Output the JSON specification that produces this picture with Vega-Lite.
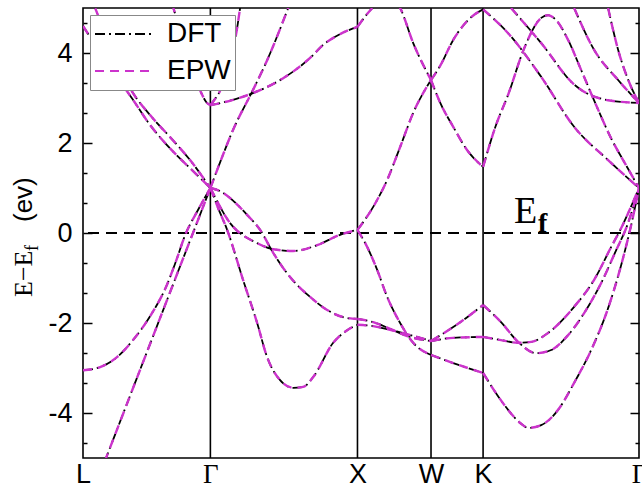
{
 "$schema": "https://vega.github.io/schema/vega-lite/v6.json",
 "width": 556, "height": 450,
 "autosize": {"type": "none"},
 "padding": {"left": 83, "top": 8, "right": 3, "bottom": 32},
 "background": "white",
 "config": {
   "view": {"stroke": "black", "strokeWidth": 1.6},
   "axis": {"grid": false, "domain": false},
   "legend": {"orient": "top-left", "offset": 7, "padding": 4, "fillColor": "white", "strokeColor": "#888888", "strokeWidth": 1, "labelFont": "Liberation Sans", "labelFontSize": 28, "labelColor": "black", "symbolType": "stroke", "symbolSize": 3600, "symbolStrokeWidth": 2, "clipHeight": 30, "rowPadding": 7, "labelOffset": 11}
 },
 "datasets": {
  "vlines": [{"k": 0.866}, {"k": 1.866}, {"k": 2.366}, {"k": 2.72}],
  "zero": [{"e": 0}],
  "bands": [
   {"b":"b1","k":0,"dft":-3.05,"epw":-3.05},{"b":"b1","k":0.116,"dft":-2.98,"epw":-2.98},{"b":"b1","k":0.231,"dft":-2.76,"epw":-2.76},{"b":"b1","k":0.34,"dft":-2.38,"epw":-2.38},{"b":"b1","k":0.456,"dft":-1.85,"epw":-1.85},{"b":"b1","k":0.571,"dft":-1.15,"epw":-1.15},{"b":"b1","k":0.633,"dft":-0.62,"epw":-0.62},{"b":"b1","k":0.694,"dft":-0.05,"epw":-0.05},{"b":"b1","k":0.78,"dft":0.5,"epw":0.5},{"b":"b1","k":0.866,"dft":1.0,"epw":1.0},
   {"b":"b2","k":0,"dft":-6.33,"epw":-6.33},{"b":"b2","k":0.433,"dft":-2.66,"epw":-2.66},{"b":"b2","k":0.866,"dft":1.0,"epw":1.0},
   {"b":"b3","k":0,"dft":5.6,"epw":5.6},{"b":"b3","k":0.082,"dft":5.0,"epw":5.0},{"b":"b3","k":0.2,"dft":4.0,"epw":4.0},{"b":"b3","k":0.34,"dft":3.11,"epw":3.11},{"b":"b3","k":0.456,"dft":2.62,"epw":2.62},{"b":"b3","k":0.592,"dft":2.13,"epw":2.13},{"b":"b3","k":0.728,"dft":1.62,"epw":1.62},{"b":"b3","k":0.866,"dft":1.0,"epw":1.0},
   {"b":"b4","k":0,"dft":4.6,"epw":4.6},{"b":"b4","k":0.17,"dft":3.75,"epw":3.75},{"b":"b4","k":0.34,"dft":2.96,"epw":2.96},{"b":"b4","k":0.456,"dft":2.4,"epw":2.4},{"b":"b4","k":0.592,"dft":1.88,"epw":1.88},{"b":"b4","k":0.728,"dft":1.44,"epw":1.44},{"b":"b4","k":0.866,"dft":1.0,"epw":1.0},
   {"b":"b5","k":0.605,"dft":5.1,"epw":5.1},{"b":"b5","k":0.7,"dft":4.1,"epw":4.1},{"b":"b5","k":0.77,"dft":3.4,"epw":3.4},{"b":"b5","k":0.81,"dft":3.07,"epw":3.07},{"b":"b5","k":0.84,"dft":2.9,"epw":2.9},{"b":"b5","k":0.866,"dft":2.84,"epw":2.84},
   {"b":"b6","k":0.866,"dft":2.84,"epw":2.84},{"b":"b6","k":0.891,"dft":2.95,"epw":2.95},{"b":"b6","k":0.932,"dft":3.16,"epw":3.16},{"b":"b6","k":0.99,"dft":3.7,"epw":3.7},{"b":"b6","k":1.048,"dft":4.56,"epw":4.56},{"b":"b6","k":1.068,"dft":5.0,"epw":5.0},{"b":"b6","k":1.09,"dft":5.5,"epw":5.5},
   {"b":"b7","k":0.866,"dft":2.84,"epw":2.84},{"b":"b7","k":0.912,"dft":2.87,"epw":2.87},{"b":"b7","k":1.02,"dft":2.96,"epw":2.96},{"b":"b7","k":1.156,"dft":3.11,"epw":3.11},{"b":"b7","k":1.361,"dft":3.44,"epw":3.44},{"b":"b7","k":1.544,"dft":3.89,"epw":3.89},{"b":"b7","k":1.633,"dft":4.18,"epw":4.18},{"b":"b7","k":1.748,"dft":4.42,"epw":4.42},{"b":"b7","k":1.866,"dft":4.58,"epw":4.58},
   {"b":"b8","k":0.866,"dft":1.0,"epw":1.0},{"b":"b8","k":0.932,"dft":1.57,"epw":1.57},{"b":"b8","k":1.02,"dft":2.29,"epw":2.29},{"b":"b8","k":1.156,"dft":3.18,"epw":3.18},{"b":"b8","k":1.252,"dft":3.84,"epw":3.84},{"b":"b8","k":1.395,"dft":5.0,"epw":5.0},{"b":"b8","k":1.43,"dft":5.3,"epw":5.3},
   {"b":"b9","k":0.866,"dft":1.0,"epw":1.0},{"b":"b9","k":0.918,"dft":0.56,"epw":0.56},{"b":"b9","k":0.98,"dft":0.07,"epw":0.07},{"b":"b9","k":1.088,"dft":-1.04,"epw":-1.04},{"b":"b9","k":1.184,"dft":-2.0,"epw":-2.0},{"b":"b9","k":1.252,"dft":-2.76,"epw":-2.76},{"b":"b9","k":1.34,"dft":-3.27,"epw":-3.27},{"b":"b9","k":1.429,"dft":-3.44,"epw":-3.44},{"b":"b9","k":1.497,"dft":-3.42,"epw":-3.42},{"b":"b9","k":1.565,"dft":-3.2,"epw":-3.2},{"b":"b9","k":1.701,"dft":-2.44,"epw":-2.44},{"b":"b9","k":1.796,"dft":-2.16,"epw":-2.16},{"b":"b9","k":1.866,"dft":-2.04,"epw":-2.04},
   {"b":"b10","k":0.866,"dft":1.0,"epw":1.0},{"b":"b10","k":0.91,"dft":0.72,"epw":0.72},{"b":"b10","k":0.96,"dft":0.42,"epw":0.42},{"b":"b10","k":1.0,"dft":0.22,"epw":0.22},{"b":"b10","k":1.048,"dft":0.05,"epw":0.05},{"b":"b10","k":1.1,"dft":-0.08,"epw":-0.08},{"b":"b10","k":1.156,"dft":-0.18,"epw":-0.18},{"b":"b10","k":1.293,"dft":-0.36,"epw":-0.36},{"b":"b10","k":1.429,"dft":-0.4,"epw":-0.4},{"b":"b10","k":1.592,"dft":-0.27,"epw":-0.27},{"b":"b10","k":1.748,"dft":-0.04,"epw":-0.04},{"b":"b10","k":1.866,"dft":0.07,"epw":0.07},
   {"b":"b11","k":0.866,"dft":1.0,"epw":1.0},{"b":"b11","k":0.932,"dft":0.93,"epw":0.93},{"b":"b11","k":1.02,"dft":0.72,"epw":0.72},{"b":"b11","k":1.122,"dft":0.38,"epw":0.38},{"b":"b11","k":1.204,"dft":0.07,"epw":0.07},{"b":"b11","k":1.293,"dft":-0.44,"epw":-0.44},{"b":"b11","k":1.408,"dft":-0.98,"epw":-0.98},{"b":"b11","k":1.544,"dft":-1.42,"epw":-1.42},{"b":"b11","k":1.66,"dft":-1.71,"epw":-1.71},{"b":"b11","k":1.769,"dft":-1.87,"epw":-1.87},{"b":"b11","k":1.866,"dft":-1.91,"epw":-1.91},
   {"b":"b12","k":1.866,"dft":4.58,"epw":4.58},{"b":"b12","k":1.92,"dft":4.82,"epw":4.82},{"b":"b12","k":1.973,"dft":5.02,"epw":5.02},{"b":"b12","k":2.061,"dft":5.3,"epw":5.3},{"b":"b12","k":2.156,"dft":5.0,"epw":5.0},{"b":"b12","k":2.245,"dft":4.22,"epw":4.22},{"b":"b12","k":2.366,"dft":3.4,"epw":3.4},
   {"b":"b13","k":1.866,"dft":0.07,"epw":0.07},{"b":"b13","k":1.973,"dft":0.58,"epw":0.58},{"b":"b13","k":2.068,"dft":1.18,"epw":1.18},{"b":"b13","k":2.156,"dft":1.91,"epw":1.91},{"b":"b13","k":2.245,"dft":2.67,"epw":2.67},{"b":"b13","k":2.366,"dft":3.4,"epw":3.4},
   {"b":"b14","k":1.866,"dft":0.07,"epw":0.07},{"b":"b14","k":1.932,"dft":-0.31,"epw":-0.31},{"b":"b14","k":2.0,"dft":-0.82,"epw":-0.82},{"b":"b14","k":2.068,"dft":-1.42,"epw":-1.42},{"b":"b14","k":2.156,"dft":-2.0,"epw":-2.0},{"b":"b14","k":2.245,"dft":-2.44,"epw":-2.44},{"b":"b14","k":2.366,"dft":-2.71,"epw":-2.71},
   {"b":"b15","k":1.866,"dft":-1.91,"epw":-1.91},{"b":"b15","k":1.973,"dft":-1.98,"epw":-1.98},{"b":"b15","k":2.088,"dft":-2.13,"epw":-2.13},{"b":"b15","k":2.204,"dft":-2.29,"epw":-2.29},{"b":"b15","k":2.366,"dft":-2.4,"epw":-2.4},
   {"b":"b16","k":1.866,"dft":-2.04,"epw":-2.04},{"b":"b16","k":1.973,"dft":-2.07,"epw":-2.07},{"b":"b16","k":2.088,"dft":-2.15,"epw":-2.15},{"b":"b16","k":2.204,"dft":-2.25,"epw":-2.25},{"b":"b16","k":2.366,"dft":-2.4,"epw":-2.4},
   {"b":"b17","k":2.366,"dft":3.4,"epw":3.4},{"b":"b17","k":2.429,"dft":3.72,"epw":3.72},{"b":"b17","k":2.517,"dft":4.29,"epw":4.29},{"b":"b17","k":2.633,"dft":4.78,"epw":4.78},{"b":"b17","k":2.72,"dft":4.97,"epw":4.97},
   {"b":"b18","k":2.366,"dft":3.4,"epw":3.4},{"b":"b18","k":2.429,"dft":2.89,"epw":2.89},{"b":"b18","k":2.517,"dft":2.36,"epw":2.36},{"b":"b18","k":2.612,"dft":1.84,"epw":1.84},{"b":"b18","k":2.72,"dft":1.47,"epw":1.47},
   {"b":"b19","k":2.366,"dft":-2.4,"epw":-2.4},{"b":"b19","k":2.517,"dft":-2.09,"epw":-2.09},{"b":"b19","k":2.612,"dft":-1.87,"epw":-1.87},{"b":"b19","k":2.72,"dft":-1.6,"epw":-1.6},
   {"b":"b20","k":2.366,"dft":-2.4,"epw":-2.4},{"b":"b20","k":2.517,"dft":-2.33,"epw":-2.33},{"b":"b20","k":2.72,"dft":-2.31,"epw":-2.31},
   {"b":"b21","k":2.366,"dft":-2.71,"epw":-2.71},{"b":"b21","k":2.517,"dft":-2.89,"epw":-2.89},{"b":"b21","k":2.72,"dft":-3.11,"epw":-3.11},
   {"b":"b22","k":2.72,"dft":4.97,"epw":4.97},{"b":"b22","k":2.89,"dft":4.44,"epw":4.44},{"b":"b22","k":3.115,"dft":3.47,"epw":3.47},{"b":"b22","k":3.339,"dft":2.36,"epw":2.36},{"b":"b22","k":3.57,"dft":1.62,"epw":1.62},{"b":"b22","k":3.78,"dft":1.0,"epw":1.0},
   {"b":"b23","k":2.72,"dft":1.47,"epw":1.47},{"b":"b23","k":2.808,"dft":2.4,"epw":2.4},{"b":"b23","k":2.89,"dft":3.07,"epw":3.07},{"b":"b23","k":2.999,"dft":4.1,"epw":4.1},{"b":"b23","k":3.115,"dft":4.78,"epw":4.78},{"b":"b23","k":3.162,"dft":4.84,"epw":4.84},{"b":"b23","k":3.217,"dft":4.73,"epw":4.73},{"b":"b23","k":3.298,"dft":4.29,"epw":4.29},{"b":"b23","k":3.387,"dft":3.62,"epw":3.62},{"b":"b23","k":3.489,"dft":2.84,"epw":2.84},{"b":"b23","k":3.591,"dft":2.1,"epw":2.1},{"b":"b23","k":3.693,"dft":1.5,"epw":1.5},{"b":"b23","k":3.78,"dft":1.0,"epw":1.0},
   {"b":"b24","k":3.339,"dft":5.0,"epw":5.0},{"b":"b24","k":3.475,"dft":4.07,"epw":4.07},{"b":"b24","k":3.638,"dft":3.4,"epw":3.4},{"b":"b24","k":3.78,"dft":2.89,"epw":2.89},
   {"b":"b25","k":3.57,"dft":5.0,"epw":5.0},{"b":"b25","k":3.638,"dft":4.07,"epw":4.07},{"b":"b25","k":3.707,"dft":3.4,"epw":3.4},{"b":"b25","k":3.78,"dft":2.89,"epw":2.89},
   {"b":"b26","k":2.91,"dft":5.0,"epw":5.0},{"b":"b26","k":3.115,"dft":4.22,"epw":4.22},{"b":"b26","k":3.339,"dft":3.3,"epw":3.3},{"b":"b26","k":3.57,"dft":2.95,"epw":2.95},{"b":"b26","k":3.78,"dft":2.89,"epw":2.89},
   {"b":"b27","k":2.72,"dft":-1.6,"epw":-1.6},{"b":"b27","k":2.842,"dft":-1.98,"epw":-1.98},{"b":"b27","k":2.958,"dft":-2.42,"epw":-2.42},{"b":"b27","k":3.081,"dft":-2.67,"epw":-2.67},{"b":"b27","k":3.183,"dft":-2.6,"epw":-2.6},{"b":"b27","k":3.298,"dft":-2.27,"epw":-2.27},{"b":"b27","k":3.407,"dft":-1.78,"epw":-1.78},{"b":"b27","k":3.523,"dft":-1.11,"epw":-1.11},{"b":"b27","k":3.625,"dft":-0.38,"epw":-0.38},{"b":"b27","k":3.693,"dft":0.11,"epw":0.11},{"b":"b27","k":3.78,"dft":1.0,"epw":1.0},
   {"b":"b28","k":2.72,"dft":-2.31,"epw":-2.31},{"b":"b28","k":2.842,"dft":-2.38,"epw":-2.38},{"b":"b28","k":2.958,"dft":-2.44,"epw":-2.44},{"b":"b28","k":3.047,"dft":-2.42,"epw":-2.42},{"b":"b28","k":3.162,"dft":-2.22,"epw":-2.22},{"b":"b28","k":3.339,"dft":-1.64,"epw":-1.64},{"b":"b28","k":3.475,"dft":-1.04,"epw":-1.04},{"b":"b28","k":3.591,"dft":-0.31,"epw":-0.31},{"b":"b28","k":3.659,"dft":0.11,"epw":0.11},{"b":"b28","k":3.78,"dft":1.0,"epw":1.0},
   {"b":"b29","k":2.72,"dft":-3.11,"epw":-3.11},{"b":"b29","k":2.808,"dft":-3.56,"epw":-3.56},{"b":"b29","k":2.89,"dft":-3.93,"epw":-3.93},{"b":"b29","k":2.979,"dft":-4.24,"epw":-4.24},{"b":"b29","k":3.026,"dft":-4.33,"epw":-4.33},{"b":"b29","k":3.115,"dft":-4.27,"epw":-4.27},{"b":"b29","k":3.23,"dft":-3.93,"epw":-3.93},{"b":"b29","k":3.339,"dft":-3.33,"epw":-3.33},{"b":"b29","k":3.455,"dft":-2.6,"epw":-2.6},{"b":"b29","k":3.57,"dft":-1.67,"epw":-1.67},{"b":"b29","k":3.659,"dft":-0.71,"epw":-0.71},{"b":"b29","k":3.727,"dft":0.18,"epw":0.18},{"b":"b29","k":3.78,"dft":1.0,"epw":1.0}
  ],
  "ef_e": [{"k": 2.931, "e": 0.222, "t": "E"}],
  "ef_f": [{"k": 3.094, "e": 0.02, "t": "f"}],
  "yt_main": [{"k": -0.347, "e": -1.422, "t": "E−E"}],
  "yt_sub": [{"k": -0.306, "e": -0.4, "t": "f"}],
  "yt_unit": [{"k": -0.347, "e": 0.244, "t": "(ev)"}]
 },
 "layer": [
  {
   "data": {"name": "vlines"},
   "mark": {"type": "rule", "color": "black", "strokeWidth": 1.6},
   "encoding": {
    "x": {"field": "k", "type": "quantitative", "scale": {"domain": [0, 3.78], "nice": false, "zero": false},
     "axis": {"title": null, "values": [0, 0.866, 1.866, 2.366, 2.72, 3.78], "ticks": false, "domain": false, "grid": false, "labelFlush": false, "labelOverlap": false, "labelBound": false, "labelPadding": 3, "labelFontSize": 27, "labelColor": "black",
      "labelFont": {"condition": {"test": "(datum.value > 0.5 && datum.value < 1.5) || datum.value > 3", "value": "Liberation Serif"}, "value": "Liberation Sans"},
      "labelExpr": "datum.value < 0.5 ? 'L' : datum.value < 1.5 ? 'Γ' : datum.value < 2.1 ? 'X' : datum.value < 2.5 ? 'W' : datum.value < 3 ? 'K' : 'Γ'"}}
   }
  },
  {
   "data": {"name": "zero"},
   "mark": {"type": "rule", "color": "black", "strokeWidth": 2.2, "strokeDash": [11, 7]},
   "encoding": {"y": {"field": "e", "type": "quantitative", "scale": {"domain": [-5, 5], "nice": false, "zero": false}, "axis": null}}
  },
  {
   "data": {"name": "bands"},
   "mark": {"type": "line", "interpolate": "monotone", "clip": true, "strokeWidth": 1.8},
   "encoding": {
    "x": {"field": "k", "type": "quantitative", "axis": {"title": null}},
    "y": {"field": "dft", "type": "quantitative", "scale": {"domain": [-5, 5], "nice": false, "zero": false},
     "axis": {"orient": "left", "title": null, "domain": false, "grid": false,
      "values": [-4.6667, -4, -3.3333, -2.6667, -2, -1.3333, -0.6667, 0, 0.6667, 1.3333, 2, 2.6667, 3.3333, 4, 4.6667],
      "labelExpr": "abs(datum.value - round(datum.value)) < 0.01 && round(datum.value) % 2 == 0 ? '' + round(datum.value) : ''",
      "tickSize": {"condition": {"test": "abs(datum.value - round(datum.value)) < 0.01 && round(datum.value) % 2 == 0", "value": -9}, "value": -4},
      "tickColor": "black", "tickWidth": 1.5, "labelPadding": 20, "labelFontSize": 27, "labelFont": "Liberation Sans", "labelColor": "black"}},
    "detail": {"field": "b"},
    "order": {"field": "k", "type": "quantitative"},
    "color": {"datum": "DFT", "type": "nominal", "scale": {"domain": ["DFT", "EPW"], "range": ["#000000", "#cc33cc"]}, "legend": {"title": null}},
    "strokeDash": {"datum": "DFT", "type": "nominal", "scale": {"domain": ["DFT", "EPW"], "range": [[10, 4, 2, 4], [9, 6]]}, "legend": {"title": null}}
   }
  },
  {
   "data": {"name": "bands"},
   "mark": {"type": "line", "interpolate": "monotone", "clip": true, "strokeWidth": 2.4},
   "encoding": {
    "x": {"field": "k", "type": "quantitative", "axis": {"title": null}},
    "y": {"field": "epw", "type": "quantitative",
     "axis": {"orient": "right", "title": null, "domain": false, "grid": false, "labels": false,
      "values": [-4.6667, -4, -3.3333, -2.6667, -2, -1.3333, -0.6667, 0, 0.6667, 1.3333, 2, 2.6667, 3.3333, 4, 4.6667],
      "tickSize": {"condition": {"test": "abs(datum.value - round(datum.value)) < 0.01 && round(datum.value) % 2 == 0", "value": -9}, "value": -4},
      "tickColor": "black", "tickWidth": 1.5}},
    "detail": {"field": "b"},
    "order": {"field": "k", "type": "quantitative"},
    "color": {"datum": "EPW", "type": "nominal", "legend": {"title": null}},
    "strokeDash": {"datum": "EPW", "type": "nominal", "legend": {"title": null}}
   }
  },
  {
   "data": {"name": "ef_e"},
   "mark": {"type": "text", "font": "Liberation Serif", "fontSize": 38, "align": "left", "baseline": "alphabetic", "color": "black"},
   "encoding": {"x": {"field": "k", "type": "quantitative", "axis": {"title": null}}, "y": {"field": "e", "type": "quantitative", "axis": null}, "text": {"field": "t"}}
  },
  {
   "data": {"name": "ef_f"},
   "mark": {"type": "text", "font": "Liberation Serif", "fontSize": 28, "fontWeight": "bold", "align": "left", "baseline": "alphabetic", "color": "black"},
   "encoding": {"x": {"field": "k", "type": "quantitative", "axis": {"title": null}}, "y": {"field": "e", "type": "quantitative", "axis": null}, "text": {"field": "t"}}
  },
  {
   "data": {"name": "yt_main"},
   "mark": {"type": "text", "font": "Liberation Serif", "fontSize": 26, "angle": 270, "align": "left", "baseline": "alphabetic", "color": "black"},
   "encoding": {"x": {"field": "k", "type": "quantitative", "axis": {"title": null}}, "y": {"field": "e", "type": "quantitative", "axis": null}, "text": {"field": "t"}}
  },
  {
   "data": {"name": "yt_sub"},
   "mark": {"type": "text", "font": "Liberation Serif", "fontSize": 18, "angle": 270, "align": "left", "baseline": "alphabetic", "color": "black"},
   "encoding": {"x": {"field": "k", "type": "quantitative", "axis": {"title": null}}, "y": {"field": "e", "type": "quantitative", "axis": null}, "text": {"field": "t"}}
  },
  {
   "data": {"name": "yt_unit"},
   "mark": {"type": "text", "font": "Liberation Sans", "fontSize": 26, "angle": 270, "align": "left", "baseline": "alphabetic", "color": "black"},
   "encoding": {"x": {"field": "k", "type": "quantitative", "axis": {"title": null}}, "y": {"field": "e", "type": "quantitative", "axis": null}, "text": {"field": "t"}}
  }
 ],
 "resolve": {"axis": {"y": "independent"}}
}
